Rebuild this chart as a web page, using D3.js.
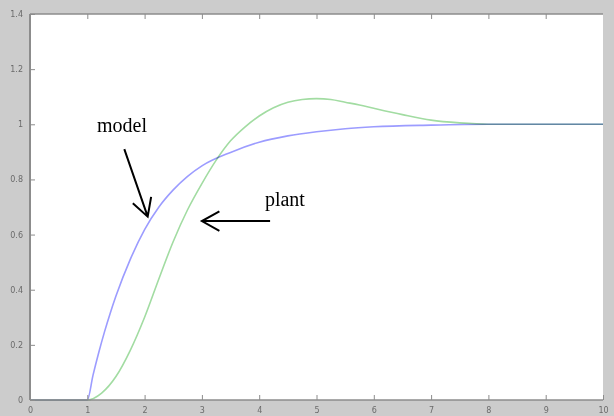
<!DOCTYPE html>
<html>
<head>
<meta charset="utf-8">
<script src="https://cdn.jsdelivr.net/npm/d3@7"></script>
<style>
  html, body { margin: 0; padding: 0; background: #cccccc; }
  svg { display: block; }
</style>
</head>
<body>
<div id="chart"></div>
<script>
// time axis (s) and the two step responses
const modelT = [0, 0.5, 1, 1.1, 1.2, 1.3, 1.4, 1.5, 1.75, 2, 2.25, 2.5, 2.75, 3, 3.5, 4, 4.5, 5, 5.5, 6, 7, 8, 9, 10];
const modelY = [0, 0, 0, 0.09, 0.172, 0.247, 0.315, 0.377, 0.51, 0.618, 0.7, 0.762, 0.811, 0.849, 0.898, 0.935, 0.958, 0.973, 0.984, 0.991, 0.997, 1.0, 1.0, 1.0];

const plantT = [0, 0.5, 1, 1.25, 1.5, 1.75, 2, 2.25, 2.5, 2.75, 3, 3.25, 3.5, 3.75, 4, 4.25, 4.5, 4.75, 5, 5.25, 5.5, 5.75, 6, 6.5, 7, 7.5, 8, 8.5, 9, 9.5, 10];
const plantY = [0, 0, 0, 0.025, 0.085, 0.18, 0.3, 0.44, 0.575, 0.69, 0.785, 0.87, 0.94, 0.99, 1.03, 1.06, 1.08, 1.09, 1.093, 1.09, 1.08, 1.07, 1.058, 1.035, 1.015, 1.005, 1.0, 1.0, 1.0, 1.0, 1.0];

const xTicks = [0, 1, 2, 3, 4, 5, 6, 7, 8, 9, 10];
const yTicks = [0, 0.2, 0.4, 0.6, 0.8, 1, 1.2, 1.4];

// annotations in data units: label anchor, arrow tail, arrow tip
const notes = [
  { text: "model", tx: 1.17, ty: 0.972, x1: 1.646, y1: 0.91, x2: 2.054, y2: 0.665 },
  { text: "plant", tx: 4.1, ty: 0.704, x1: 4.19, y1: 0.649, x2: 3.0, y2: 0.649 }
];

const width = 614, height = 416;
const margin = { top: 14, right: 11, bottom: 16, left: 30 };
const w = width - margin.left - margin.right;
const h = height - margin.top - margin.bottom;

const svg = d3.select("#chart").append("svg")
  .attr("width", width)
  .attr("height", height)
  .style("background", "#cccccc");

const g = svg.append("g").attr("transform", `translate(${margin.left},${margin.top})`);

const x = d3.scaleLinear().domain([0, 10]).range([0, w]);
const y = d3.scaleLinear().domain([0, 1.4]).range([h, 0]);

g.append("rect").attr("width", w).attr("height", h).attr("fill", "#ffffff");

const line = d3.line()
  .x((d) => x(d[0]))
  .y((d) => y(d[1]))
  .curve(d3.curveMonotoneX);

g.append("path")
  .datum(plantT.map((t, i) => [t, plantY[i]]))
  .attr("d", line)
  .attr("fill", "none")
  .attr("stroke", "#a2dca2")
  .attr("stroke-width", 1.6)
  .style("mix-blend-mode", "multiply");

g.append("path")
  .datum(modelT.map((t, i) => [t, modelY[i]]))
  .attr("d", line)
  .attr("fill", "none")
  .attr("stroke", "#9c9cff")
  .attr("stroke-width", 1.6)
  .style("mix-blend-mode", "multiply");

// box and inward ticks
const axisColor = "#8c8c8c";
g.append("line").attr("x1", 0).attr("x2", 0).attr("y1", 0).attr("y2", h)
  .attr("stroke", axisColor).attr("stroke-width", 2);
g.append("line").attr("x1", 0).attr("x2", w).attr("y1", h).attr("y2", h)
  .attr("stroke", axisColor).attr("stroke-width", 1.5);
g.append("line").attr("x1", 0).attr("x2", w).attr("y1", 0).attr("y2", 0)
  .attr("stroke", axisColor).attr("stroke-width", 1.5);

const xAxisB = d3.axisBottom(x).tickValues(xTicks).tickSizeInner(-5).tickSizeOuter(0).tickPadding(7);
const xAxisT = d3.axisTop(x).tickValues(xTicks.slice(1, -1)).tickSizeInner(-5).tickSizeOuter(0).tickFormat("");
const yAxisL = d3.axisLeft(y).tickValues(yTicks).tickSizeInner(-5).tickSizeOuter(0).tickPadding(7)
  .tickFormat(d3.format("~g"));

function styleAxis(sel) {
  sel.select(".domain").remove();
  sel.selectAll(".tick line").attr("stroke", axisColor).attr("stroke-width", 1);
  sel.selectAll(".tick text")
    .attr("fill", "#6a6a6a")
    .style("font-family", "'DejaVu Sans', sans-serif")
    .style("font-size", "8px");
}

g.append("g").attr("transform", `translate(0,${h})`).call(xAxisB).call(styleAxis);
g.append("g").call(xAxisT).call(styleAxis);
g.append("g").call(yAxisL).call(styleAxis);

// annotations
const ann = g.append("g");
const headLen = 20, headAng = 29 * Math.PI / 180;
notes.forEach((n) => {
  ann.append("text")
    .attr("x", x(n.tx))
    .attr("y", y(n.ty))
    .attr("fill", "#000")
    .style("font-family", "'Liberation Serif', 'Times New Roman', serif")
    .style("font-size", "20px")
    .text(n.text);

  const px1 = x(n.x1), py1 = y(n.y1), px2 = x(n.x2), py2 = y(n.y2);
  const back = Math.atan2(py1 - py2, px1 - px2);
  const head = [back - headAng, back + headAng].map((a) => [px2 + headLen * Math.cos(a), py2 + headLen * Math.sin(a)]);

  ann.append("path")
    .attr("d", `M${px1},${py1}L${px2},${py2}M${head[0][0]},${head[0][1]}L${px2},${py2}L${head[1][0]},${head[1][1]}`)
    .attr("fill", "none")
    .attr("stroke", "#000")
    .attr("stroke-width", 2);
});
</script>
</body>
</html>
